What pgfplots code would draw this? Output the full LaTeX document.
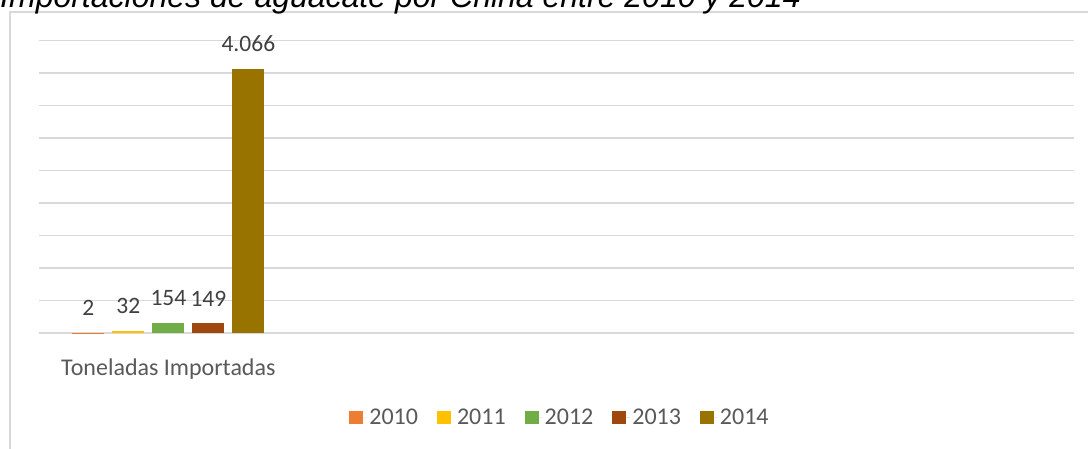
\documentclass[border=0pt]{standalone}
\usepackage{fontspec}
\setmainfont{Carlito}
\newfontfamily\titlefont{Liberation Sans}
\usepackage{pgfplots}
\pgfplotsset{compat=1.18}
\definecolor{c2010}{HTML}{ED7D31}
\definecolor{c2011}{HTML}{FFC000}
\definecolor{c2012}{HTML}{70AD47}
\definecolor{c2013}{HTML}{9E480E}
\definecolor{c2014}{HTML}{997300}
\definecolor{gridc}{HTML}{D9D9D9}
\definecolor{lblc}{HTML}{404040}
\definecolor{txtc}{HTML}{595959}
\begin{document}
\begin{tikzpicture}[x=1pt,y=1pt]
\useasboundingbox (0,0) rectangle (1088,448);
\fill[white] (0,0) rectangle (1088,448);
\draw[gridc, line width=1.5pt] (10,-5) -- (10,436) -- (1095,436);
\node[anchor=base west, inner sep=0, font=\titlefont\itshape\fontsize{32}{36}\selectfont, text=black] at (0,440) {Importaciones de aguacate por China entre 2010 y 2014};
\begin{axis}[
  at={(39pt,115pt)}, anchor=south west,
  scale only axis, width=1035pt, height=292.3pt,
  xmin=-0.5, xmax=3.5, ymin=0, ymax=4500,
  ybar=8pt, bar width=32pt,
  axis line style={draw=none}, tick style={draw=none},
  ytick={0,500,...,4500}, yticklabels={}, ymajorgrids,
  grid style={gridc, line width=1.5pt},
  xtick={0}, xticklabels={Toneladas Importadas},
  xticklabel style={font=\fontsize{24}{28}\selectfont, text=txtc, anchor=base, yshift=-38pt},
  /pgf/number format/.cd, 1000 sep={.}, assume math mode=true, /pgfplots/.cd,
  nodes near coords,
  every node near coord/.append style={font=\fontsize{23.5}{27}\selectfont, text=lblc, anchor=base, yshift=17pt},
  legend columns=-1,
  legend image code/.code={\fill[#1] (0pt,-6.5pt) rectangle (14pt,6.5pt); \path (0pt,0pt) -- (18pt,0pt);},
  legend style={at={(0.5034,-0.29)}, anchor=center, draw=none, fill=none,
    font=\fontsize{24}{28}\selectfont, text=txtc,
    /tikz/every even column/.append style={column sep=17pt}},
]
\addplot[fill=c2010, draw=none] coordinates {(0,2)};
\addplot[fill=c2011, draw=none] coordinates {(0,32)};
\addplot[fill=c2012, draw=none] coordinates {(0,154)};
\addplot[fill=c2013, draw=none] coordinates {(0,149)};
\addplot[fill=c2014, draw=none] coordinates {(0,4066)};
\legend{2010,2011,2012,2013,2014}
\end{axis}
\end{tikzpicture}
\end{document}
